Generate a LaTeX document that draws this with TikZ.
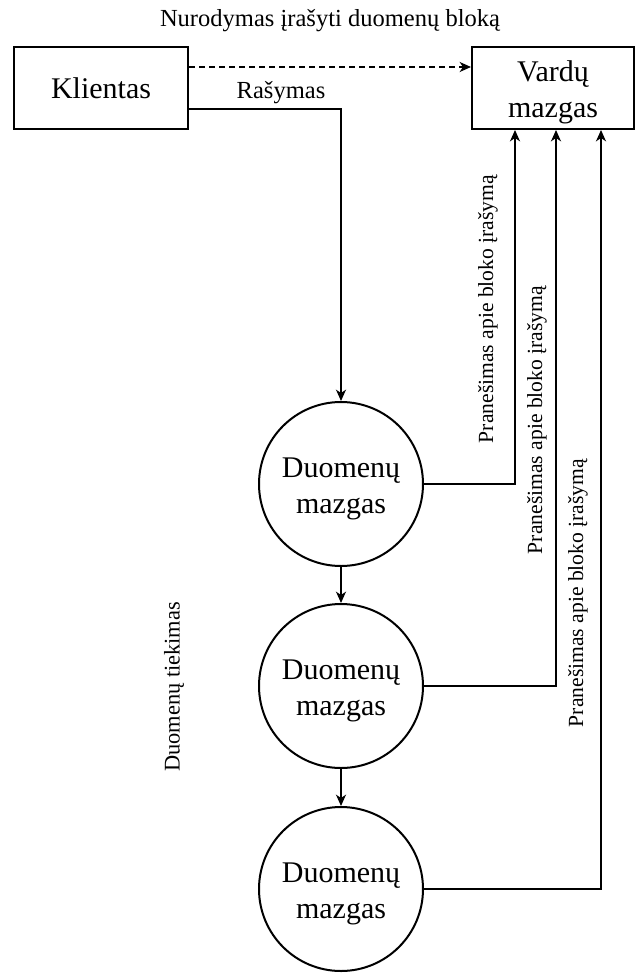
\documentclass[tikz,border=0pt]{standalone}
\usepackage{fontspec}
\setmainfont{Liberation Serif}
\usetikzlibrary{arrows.meta,calc}

% two centred lines; the strut on the first line lowers the block a little
\newcommand{\twolines}[2]{\rule{0pt}{21.5pt}#1\\#2}

\tikzset{
  big/.style={font=\fontsize{22.5pt}{27pt}\selectfont},
  mid/.style={font=\fontsize{18.4pt}{22pt}\selectfont},
  small/.style={font=\fontsize{16.2pt}{19pt}\selectfont},
  rect/.style={draw, line width=1.5pt, big, align=center, inner sep=0pt},
  dnode/.style={draw, circle, line width=1.5pt, big, align=center,
                minimum size=123pt, inner sep=0pt},
  conn/.style={line width=1.4pt, -{Stealth[length=8.5pt,width=7.5pt,inset=2.5pt]}},
  vlabel/.style={small, rotate=90, inner sep=0pt}
}

\begin{document}
\begin{tikzpicture}[x=0.75pt,y=-0.75pt]
  \useasboundingbox (0,0) rectangle (636,974);

  % title above the request arrow
  \node[mid, inner sep=0pt] (title) at (330,21) {Nurodymas įrašyti duomenų bloką};

  % client and name node
  \node[rect, minimum width=130.5pt, minimum height=61.5pt] (kl) at (101,88) {Klientas};
  \node[rect, minimum width=121.5pt, minimum height=61.5pt] (vn) at (553,88)
       {\twolines{Vardų}{mazgas}};

  % data nodes in the pipeline
  \node[dnode] (d1) at (341,484) {\twolines{Duomenų}{mazgas}};
  \node[dnode] (d2) at (341,686) {\twolines{Duomenų}{mazgas}};
  \node[dnode] (d3) at (341,889) {\twolines{Duomenų}{mazgas}};

  % attachment points on the client and the name node
  \coordinate (kA) at ($(kl.north east)!0.25!(kl.south east)$);
  \coordinate (kB) at ($(kl.north east)!0.75!(kl.south east)$);
  \coordinate (vA) at ($(vn.north west)!0.25!(vn.south west)$);
  \coordinate (v1) at ($(vn.south west)+(44,0)$);
  \coordinate (v2) at ($(vn.south west)+(85,0)$);
  \coordinate (v3) at ($(vn.south west)+(130,0)$);

  % request to the name node
  \draw[conn, dash pattern=on 4.5pt off 3pt] (kA) -- (vA);

  % write into the first data node
  \draw[conn] (kB) -| (d1.north);
  \node[mid, inner sep=0pt] (wr) at (281,93) {Rašymas};

  % replication along the pipeline
  \draw[conn] (d1.south) -- (d2.north);
  \draw[conn] (d2.south) -- (d3.north);

  % block write reports
  \draw[conn] (d1.east) -| (v1);
  \draw[conn] (d2.east) -| (v2);
  \draw[conn] (d3.east) -| (v3);

  \node[vlabel] (l1) at (488,309) {Pranešimas apie bloko įrašymą};
  \node[vlabel] (l2) at (537,420) {Pranešimas apie bloko įrašymą};
  \node[vlabel] (l3) at (578,593) {Pranešimas apie bloko įrašymą};

  \node[vlabel, font=\fontsize{16.8pt}{19pt}\selectfont] (flow) at (174,687) {Duomenų tiekimas};
\end{tikzpicture}
\end{document}
